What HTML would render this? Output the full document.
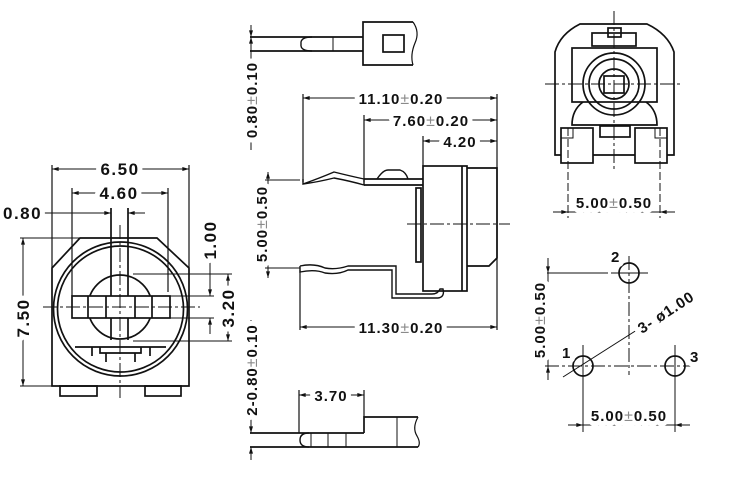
<!DOCTYPE html>
<html><head><meta charset="utf-8"><style>
html,body{margin:0;padding:0;background:#fff}
svg{display:block}
text{font-family:"Liberation Sans",Arial,sans-serif;font-weight:bold;fill:var(--f);stroke:var(--s);stroke-width:var(--w);stroke-linejoin:round}
.pm{fill:var(--pm);font-weight:normal;font-size:16px}
.halo{--f:#fff;--s:#fff;--w:10px;--pm:#fff}
.norm{--f:#111;--s:none;--w:0px;--pm:#8a8a8a}
</style></head><body>
<svg width="750" height="503" viewBox="0 0 750 503" xmlns="http://www.w3.org/2000/svg">
<defs>
<marker id="a" viewBox="0 0 10 6" refX="10" refY="3" markerWidth="7" markerHeight="4" orient="auto-start-reverse" markerUnits="userSpaceOnUse"><path d="M0,0L10,3L0,6z" fill="#111"/></marker>
<g id="L1">
<text x="120" y="175" text-anchor="middle">6.50</text>
<text x="119" y="199" text-anchor="middle">4.60</text>
<text x="3" y="219">0.80</text>
<text transform="translate(216,240) rotate(-90)" text-anchor="middle">1.00</text>
<text transform="translate(234,308) rotate(-90)" text-anchor="middle">3.20</text>
<text transform="translate(29,318) rotate(-90)" text-anchor="middle">7.50</text>
</g>
<g id="L2">
<text transform="translate(257,100) rotate(-90)" text-anchor="middle">0.80<tspan class="pm">±</tspan>0.10</text>
<text transform="translate(257,370) rotate(-90)" text-anchor="middle">2-0.80<tspan class="pm">±</tspan>0.10</text>
<text transform="translate(267,224) rotate(-90)" text-anchor="middle">5.00<tspan class="pm">±</tspan>0.50</text>
<text x="401" y="104" text-anchor="middle">11.10<tspan class="pm">±</tspan>0.20</text>
<text x="431" y="126" text-anchor="middle">7.60<tspan class="pm">±</tspan>0.20</text>
<text x="460" y="147" text-anchor="middle">4.20</text>
<text x="401" y="333" text-anchor="middle">11.30<tspan class="pm">±</tspan>0.20</text>
<text x="331" y="401" text-anchor="middle">3.70</text>
<text x="614" y="208" text-anchor="middle">5.00<tspan class="pm">±</tspan>0.50</text>
<text x="629" y="421" text-anchor="middle">5.00<tspan class="pm">±</tspan>0.50</text>
<text transform="translate(545,320) rotate(-90)" text-anchor="middle">5.00<tspan class="pm">±</tspan>0.50</text>
<text transform="translate(642,334) rotate(-33)">3- ø1.00</text>
<text x="562" y="358">1</text>
<text x="611" y="262">2</text>
<text x="690" y="362">3</text>
</g>
</defs>
<g stroke="#111" stroke-width="1.7" fill="none">
<path d="M52,268 L80,238 L157,238 L189,268 L189,386 L52,386 Z"/>
<rect x="60" y="386" width="37" height="10"/>
<rect x="145" y="386" width="36" height="10"/>
<circle cx="120.5" cy="309" r="67"/>
<circle cx="120.5" cy="309" r="63"/>
<circle cx="120" cy="307" r="32"/>
<rect x="72" y="296" width="98" height="22" fill="#fff"/>
<line x1="88" y1="296" x2="88" y2="318"/><line x1="106" y1="296" x2="106" y2="318"/><line x1="135" y1="296" x2="135" y2="318"/><line x1="152" y1="296" x2="152" y2="318"/>
<line x1="111" y1="208" x2="111" y2="296"/><line x1="128" y1="208" x2="128" y2="296"/>
<line x1="111" y1="318" x2="111" y2="340"/><line x1="128" y1="318" x2="128" y2="340"/>
<line x1="75" y1="347" x2="166" y2="347"/>
<path d="M92,347 L92,356 M150,347 L150,356 M100,347 L100,353 L141,353 L141,347 M106,353 L106,362 M135,353 L135,362"/>
<line x1="120" y1="225" x2="120" y2="398" stroke-width="1" stroke-dasharray="14,3,3,3"/>
<line x1="43" y1="307" x2="200" y2="307" stroke-width="1" stroke-dasharray="14,3,3,3"/>
<line x1="52" y1="165" x2="52" y2="268" stroke-width="1.2"/><line x1="189" y1="165" x2="189" y2="268" stroke-width="1.2"/>
<line x1="52" y1="169" x2="189" y2="169" stroke-width="1" marker-start="url(#a)" marker-end="url(#a)"/>
<line x1="72" y1="188" x2="72" y2="296" stroke-width="1.2"/><line x1="168" y1="188" x2="168" y2="292" stroke-width="1.2"/>
<line x1="72" y1="193" x2="168" y2="193" stroke-width="1" marker-start="url(#a)" marker-end="url(#a)"/>
<line x1="42" y1="213" x2="111" y2="213" stroke-width="1" marker-end="url(#a)"/><line x1="145" y1="213" x2="128" y2="213" stroke-width="1" marker-end="url(#a)"/>
<line x1="20" y1="238" x2="80" y2="238" stroke-width="1"/><line x1="20" y1="386" x2="55" y2="386" stroke-width="1"/>
<line x1="23" y1="238" x2="23" y2="386" stroke-width="1" marker-start="url(#a)" marker-end="url(#a)"/>
<line x1="170" y1="296" x2="214" y2="296" stroke-width="1"/><line x1="170" y1="318" x2="214" y2="318" stroke-width="1"/>
<line x1="210" y1="262" x2="210" y2="296" stroke-width="1" marker-end="url(#a)"/><line x1="210" y1="334" x2="210" y2="318" stroke-width="1" marker-end="url(#a)"/>
<line x1="133" y1="274" x2="232" y2="274" stroke-width="1"/><line x1="133" y1="341" x2="232" y2="341" stroke-width="1"/>
<line x1="228" y1="274" x2="228" y2="341" stroke-width="1" marker-start="url(#a)" marker-end="url(#a)"/>

<line x1="250" y1="37" x2="363" y2="37"/><line x1="250" y1="51" x2="363" y2="51"/>
<path d="M312,37 Q300,37 301,44 Q300,51 312,51" stroke-width="1.4"/>
<line x1="333" y1="37" x2="333" y2="51" stroke-width="1"/>
<path d="M413,22 L363,22 L363,65 L413,65"/>
<path d="M413,22 Q420,32 415,43 Q410,55 413,65" stroke-width="1.2"/>
<rect x="383" y="35" width="21" height="17"/>
<line x1="251" y1="25" x2="251" y2="37" stroke-width="1" marker-end="url(#a)"/>
<line x1="251" y1="37" x2="251" y2="150" stroke-width="1" marker-start="url(#a)"/>

<line x1="303" y1="94" x2="303" y2="182" stroke-width="1.2"/><line x1="497" y1="94" x2="497" y2="330" stroke-width="1.2"/>
<line x1="303" y1="98" x2="497" y2="98" stroke-width="1" marker-start="url(#a)" marker-end="url(#a)"/>
<line x1="364" y1="115" x2="364" y2="182" stroke-width="1.2"/>
<line x1="364" y1="120" x2="497" y2="120" stroke-width="1" marker-start="url(#a)" marker-end="url(#a)"/>
<line x1="423" y1="136" x2="423" y2="166" stroke-width="1.2"/>
<line x1="423" y1="141" x2="497" y2="141" stroke-width="1" marker-start="url(#a)" marker-end="url(#a)"/>
<path d="M303,179 L303,184 Q320,178 334,172 Q350,176 364,179 L364,185 Q350,181 334,178 Q318,182 303,184" stroke-width="1.4"/>
<path d="M364,179 L423,179 M364,185 L423,185"/>
<path d="M377,179 Q383,170 388,170 L400,170 Q406,172 408,179" stroke-width="1.4"/>
<rect x="423" y="166" width="44" height="125"/>
<line x1="462" y1="166" x2="462" y2="291"/>
<path d="M467,168 L497,168 L497,258 L489,266 L467,266"/>
<rect x="416" y="188" width="5" height="74"/>
<line x1="407" y1="224" x2="510" y2="224" stroke-width="1" stroke-dasharray="14,3,3,3"/>
<path d="M300,266 L300,272 Q315,269 325,273 Q338,275 348,270 L392,270 L392,298 L438,298 Q445,297 443,289 L440,289 Q438,294 432,294 L396,294 L396,266 L348,266 Q336,270 325,268 Q314,263 300,266" stroke-width="1.4"/>
<line x1="265" y1="180" x2="300" y2="180" stroke-width="1"/><line x1="265" y1="268" x2="300" y2="268" stroke-width="1"/>
<line x1="268" y1="172" x2="268" y2="278" stroke-width="1" marker-start="url(#a)" marker-end="url(#a)"/>
<line x1="300" y1="270" x2="300" y2="330" stroke-width="1.2"/>
<line x1="300" y1="327" x2="497" y2="327" stroke-width="1" marker-start="url(#a)" marker-end="url(#a)"/>

<line x1="250" y1="433" x2="364" y2="433"/><line x1="250" y1="447" x2="418" y2="447"/>
<path d="M364,433 L364,417 L418,417"/>
<path d="M418,417 Q412,428 417,436 Q421,443 418,447" stroke-width="1.2"/>
<path d="M309,433 Q300,433 300,440 Q300,447 309,447" stroke-width="1.4"/>
<line x1="311" y1="433" x2="311" y2="447" stroke-width="1"/><line x1="328" y1="433" x2="328" y2="447" stroke-width="1"/><line x1="346" y1="433" x2="346" y2="447" stroke-width="1"/><line x1="397" y1="417" x2="397" y2="447" stroke-width="1"/>
<line x1="299" y1="390" x2="299" y2="433" stroke-width="1.2"/><line x1="364" y1="390" x2="364" y2="417" stroke-width="1.2"/>
<line x1="299" y1="395" x2="364" y2="395" stroke-width="1" marker-start="url(#a)" marker-end="url(#a)"/>
<line x1="251" y1="320" x2="251" y2="433" stroke-width="1" marker-end="url(#a)"/><line x1="251" y1="460" x2="251" y2="447" stroke-width="1" marker-end="url(#a)"/>

<path d="M555,155 L555,52 Q560,34 580,24 L647,24 Q668,34 674,52 L674,155 Z"/>
<rect x="572" y="48" width="85" height="54"/>
<rect x="592" y="33" width="44" height="13"/>
<rect x="608" y="28" width="13" height="9"/>
<circle cx="614" cy="84" r="31"/>
<circle cx="614" cy="84" r="25"/>
<circle cx="614" cy="84" r="15"/>
<rect x="604" y="76" width="20" height="17"/>
<path d="M583,102 Q572,110 572,125 L657,125 Q657,110 646,102"/>
<rect x="561" y="128" width="32" height="35" fill="#fff"/>
<rect x="635" y="128" width="32" height="35" fill="#fff"/>
<rect x="600" y="126" width="30" height="11"/>
<rect x="561" y="128" width="12" height="10" stroke-width="1"/><rect x="655" y="128" width="12" height="10" stroke-width="1"/>
<line x1="614" y1="11" x2="614" y2="172" stroke-width="1" stroke-dasharray="14,3,3,3"/>
<line x1="545" y1="84" x2="683" y2="84" stroke-width="1" stroke-dasharray="14,3,3,3"/>
<line x1="568" y1="128" x2="568" y2="218" stroke-width="1" stroke-dasharray="8,3"/><line x1="660" y1="128" x2="660" y2="218" stroke-width="1" stroke-dasharray="8,3"/>
<line x1="553" y1="212" x2="568" y2="212" stroke-width="1" marker-end="url(#a)"/><line x1="675" y1="212" x2="660" y2="212" stroke-width="1" marker-end="url(#a)"/>
<line x1="568" y1="212" x2="660" y2="212" stroke-width="1"/>

<circle cx="583" cy="366" r="10"/><circle cx="629" cy="273" r="10"/><circle cx="675" cy="366" r="10"/>
<line x1="545" y1="366" x2="692" y2="366" stroke-width="1" stroke-dasharray="14,3,3,3"/>
<line x1="629" y1="256" x2="629" y2="375" stroke-width="1" stroke-dasharray="14,3,3,3"/>
<line x1="611" y1="273" x2="648" y2="273" stroke-width="1"/>
<line x1="583" y1="345" x2="583" y2="432" stroke-width="1"/><line x1="675" y1="345" x2="675" y2="432" stroke-width="1"/>
<line x1="547" y1="273" x2="608" y2="273" stroke-width="1"/>
<line x1="548" y1="258" x2="548" y2="273" stroke-width="1" marker-end="url(#a)"/><line x1="548" y1="380" x2="548" y2="366" stroke-width="1" marker-end="url(#a)"/>
<line x1="548" y1="273" x2="548" y2="366" stroke-width="1"/>
<line x1="563" y1="377" x2="640" y2="328" stroke-width="1"/>
<line x1="568" y1="425" x2="583" y2="425" stroke-width="1" marker-end="url(#a)"/><line x1="690" y1="425" x2="675" y2="425" stroke-width="1" marker-end="url(#a)"/>
<line x1="583" y1="425" x2="675" y2="425" stroke-width="1"/>
</g>
<g class="halo">
<g font-size="17" letter-spacing="1.5"><use href="#L1"/></g>
<g font-size="15" letter-spacing="1"><use href="#L2"/></g>
</g>
<g class="norm">
<g font-size="17" letter-spacing="1.5"><use href="#L1"/></g>
<g font-size="15" letter-spacing="1"><use href="#L2"/></g>
</g>
</svg>
</body></html>
